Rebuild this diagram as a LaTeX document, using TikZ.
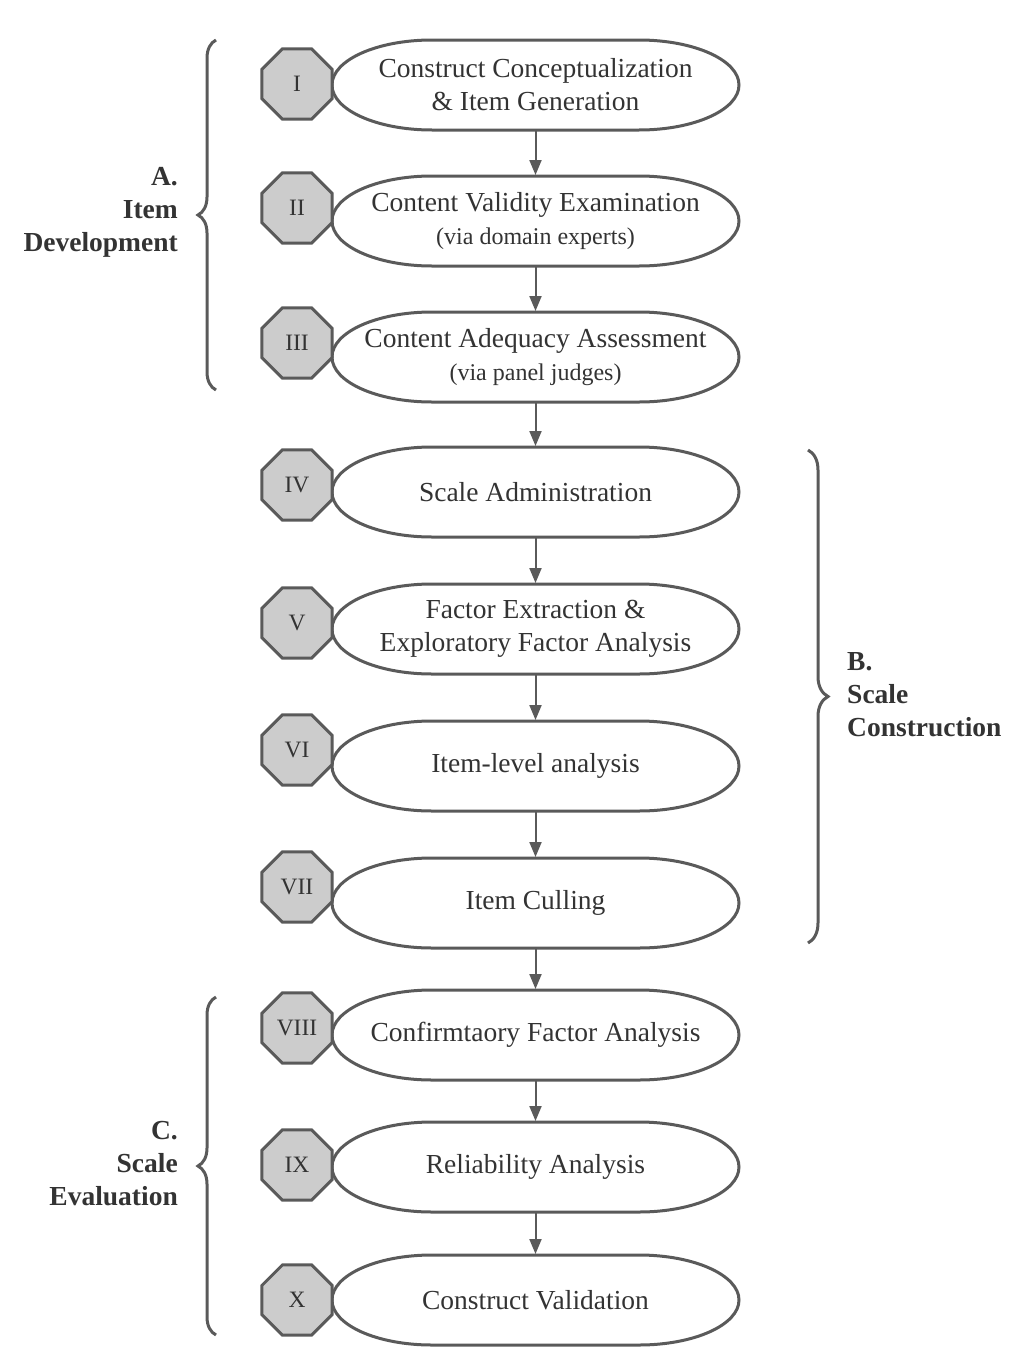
\documentclass[tikz,border=0pt]{standalone}
\usepackage{fontspec}
\setmainfont{Liberation Serif}
\usetikzlibrary{shapes.geometric,arrows.meta,decorations.pathreplacing}
\definecolor{ln}{HTML}{5A5A5A}
\definecolor{tx}{HTML}{333333}
\definecolor{oct}{HTML}{CCCCCC}
\pgfdeclarelayer{mid}
\pgfsetlayers{mid,main}
\newcommand\stadiumdraw[1]{%
  \begin{pgfonlayer}{mid}
  \draw[line width=3pt,draw=ln,fill=white] (#1.west)
    arc[start angle=180,end angle=90,x radius=100pt,y radius=45pt]
    -- ([xshift=-100pt]#1.north east)
    arc[start angle=90,end angle=-90,x radius=100pt,y radius=45pt]
    -- ([xshift=100pt]#1.south west)
    arc[start angle=270,end angle=180,x radius=100pt,y radius=45pt] -- cycle;
  \end{pgfonlayer}}
\begin{document}
\begin{tikzpicture}[x=1pt,y=1pt,
  stepbox/.style={rectangle,minimum width=407pt,minimum height=90pt,inner sep=0pt,outer sep=0pt,
    align=center,text=tx,font=\fontsize{27.5}{33}\selectfont},
  octnode/.style={regular polygon,regular polygon sides=8,minimum size=76pt,fill=oct,draw=ln,
    line width=3pt,inner sep=0pt,text=tx,font=\fontsize{23.5}{26}\selectfont},
  arr/.style={draw=ln,line width=2pt,-{Triangle[width=12pt,length=15pt]},shorten >=1pt},
  bracestyle/.style={draw=ln,line width=3pt,decorate,decoration={brace,amplitude=18pt}},
  grouplabel/.style={text=tx,font=\fontsize{27.5}{33}\bfseries\selectfont,inner sep=0pt},
  subline/.style={}]
\useasboundingbox (0,0) rectangle (1036,-1368);

% octagons
\node[octnode] (o1) at (297,-84) {I};
\node[octnode] (o2) at (297,-208) {II};
\node[octnode] (o3) at (297,-343) {III};
\node[octnode] (o4) at (297,-485) {IV};
\node[octnode] (o5) at (297,-623) {V};
\node[octnode] (o6) at (297,-750) {VI};
\node[octnode] (o7) at (297,-887) {VII};
\node[octnode] (o8) at (297,-1028) {VIII};
\node[octnode] (o9) at (297,-1165) {IX};
\node[octnode] (o10) at (297,-1300) {X};

% steps
\node[stepbox] (s1) at (535.5,-85) {Construct Conceptualization\\\& Item Generation};
\node[stepbox] (s2) at (535.5,-221) {Content Validity Examination\\{\fontsize{24}{33}\selectfont (via domain experts)}};
\node[stepbox] (s3) at (535.5,-357) {Content Adequacy Assessment\\{\fontsize{24}{33}\selectfont (via panel judges)}};
\node[stepbox] (s4) at (535.5,-492) {Scale Administration};
\node[stepbox] (s5) at (535.5,-629) {Factor Extraction \&\\Exploratory Factor Analysis};
\node[stepbox] (s6) at (535.5,-766) {Item-level analysis};
\node[stepbox] (s7) at (535.5,-903) {Item Culling};
\node[stepbox] (s8) at (535.5,-1035) {Confirmtaory Factor Analysis};
\node[stepbox] (s9) at (535.5,-1167) {Reliability Analysis};
\node[stepbox] (s10) at (535.5,-1300) {Construct Validation};

\foreach \i in {1,...,10}{\stadiumdraw{s\i}}

% arrows
\foreach \a/\b in {1/2,2/3,3/4,4/5,5/6,6/7,7/8,8/9,9/10}{
  \draw[arr] (s\a.south) -- (s\b.north);
}

% braces
\coordinate (aT) at (216,-40);
\coordinate (aB) at (216,-390);
\draw[bracestyle] (aB) -- (aT);
\coordinate (bT) at (808,-450);
\coordinate (bB) at (808,-943);
\draw[bracestyle,decoration={amplitude=20pt}] (bT) -- (bB);
\coordinate (cT) at (216,-997);
\coordinate (cB) at (216,-1335);
\draw[bracestyle] (cB) -- (cT);

% group labels
\node[grouplabel,align=right,anchor=east] (la) at (178,-212) {A.\\Item\\Development};
\node[grouplabel,align=left,anchor=west] (lb) at (847,-695) {B.\\Scale\\Construction};
\node[grouplabel,align=right,anchor=east] (lc) at (178,-1164) {C.\\Scale\\Evaluation};
\end{tikzpicture}
\end{document}
